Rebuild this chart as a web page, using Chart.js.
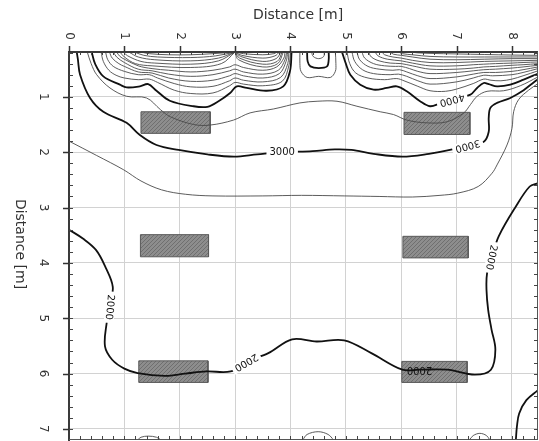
<!DOCTYPE html>
<html><head><meta charset="utf-8">
<script src="https://cdn.jsdelivr.net/npm/chart.js@4.4.1/dist/chart.umd.min.js"></script>
<style>html,body{margin:0;padding:0;background:#fff;}canvas{display:block;}</style>
</head><body>
<canvas id="c" width="539" height="441"></canvas>
<script>
// ---- axes ----
const xTickValues = [0,1,2,3,4,5,6,7,8];
const xTickLabels = ['0','1','2','3','4','5','6','7','8'];
const yTickValues = [1,2,3,4,5,6,7];
const yTickLabels = ['1','2','3','4','5','6','7'];
const axisTitle = 'Distance [m]';
const xRange = [0, 8.47];
const yRange = [0.19, 7.2];

// ---- main contour levels (thick) ----
const c2000a = [[0,3.40],[0.25,3.56],[0.49,3.77],[0.66,4.08],[0.79,4.43],[0.74,4.79],[0.68,5.09],[0.65,5.51],[0.78,5.75],[1.0,5.91],[1.24,5.99],[1.73,6.04],[2.1,6.0],[2.48,5.96],[2.92,5.96],[3.22,5.78],[3.6,5.63],[4.03,5.38],[4.47,5.42],[4.97,5.40],[5.46,5.63],[6.02,5.93],[6.33,5.93],[6.83,5.93],[7.33,6.02],[7.62,5.93],[7.70,5.57],[7.63,5.2],[7.57,4.85],[7.54,4.49],[7.55,4.19],[7.64,3.89],[7.76,3.52],[8.07,2.98],[8.32,2.62],[8.47,2.56]];
const c2000b = [[8.07,7.2],[8.09,6.95],[8.13,6.72],[8.26,6.48],[8.47,6.30]];
const c3000 = [[0.14,0.19],[0.16,0.32],[0.20,0.60],[0.38,1.02],[0.62,1.27],[1.04,1.47],[1.28,1.69],[1.58,1.87],[1.98,1.96],[2.5,2.04],[2.98,2.08],[3.4,2.04],[3.85,2.0],[4.4,1.98],[4.8,1.95],[5.1,1.96],[5.5,2.03],[6.02,2.08],[6.5,2.03],[6.88,1.96],[7.22,1.87],[7.49,1.81],[7.58,1.63],[7.58,1.38],[7.61,1.20],[7.73,1.11],[7.97,1.02],[8.21,0.88],[8.39,0.74],[8.47,0.68]];
const c4000a = [[0.41,0.19],[0.47,0.40],[0.62,0.63],[0.92,0.78],[1.04,0.83],[1.28,0.81],[1.43,0.77],[1.58,0.89],[1.82,1.07],[2.25,1.17],[2.5,1.18],[2.7,1.08],[2.91,0.93],[3.03,0.81],[3.21,0.84],[3.57,0.89],[3.87,0.81],[3.99,0.54],[4.02,0.19]];
const c4000b = [[4.93,0.19],[5.0,0.40],[5.08,0.60],[5.26,0.78],[5.50,0.87],[5.74,0.84],[5.92,0.81],[6.10,0.90],[6.34,1.08],[6.52,1.17],[6.7,1.12],[6.92,1.05],[7.25,0.96],[7.37,0.84],[7.49,0.75],[7.58,0.77],[7.73,0.81],[7.97,0.78],[8.21,0.69],[8.47,0.58]];
const cMidThick = [[4.30,0.19],[4.31,0.36],[4.36,0.45],[4.51,0.48],[4.66,0.45],[4.69,0.33],[4.69,0.19]];

// ---- intermediate contour levels (thin) ----
const c2500 = [[0,1.80],[0.5,2.06],[0.99,2.32],[1.3,2.52],[1.67,2.68],[2.1,2.76],[2.6,2.79],[3.5,2.79],[4.2,2.78],[4.97,2.79],[5.6,2.80],[6.2,2.81],[6.7,2.78],[7.02,2.74],[7.39,2.62],[7.64,2.38],[7.73,2.23],[7.91,1.87],[8.0,1.57],[8.03,1.27],[8.12,1.05],[8.3,0.88],[8.47,0.76]];
const c3500 = [[0.33,0.19],[0.40,0.40],[0.50,0.60],[0.74,0.84],[1.04,0.99],[1.40,1.02],[1.65,1.23],[1.83,1.36],[2.25,1.50],[2.55,1.51],[2.97,1.42],[3.27,1.29],[3.69,1.22],[4.17,1.11],[4.48,1.08],[4.84,1.08],[5.2,1.17],[5.62,1.27],[5.86,1.32],[6.10,1.42],[6.46,1.47],[6.83,1.45],[7.13,1.29],[7.25,1.14],[7.37,0.99],[7.55,0.90],[7.85,0.89],[8.15,0.80],[8.47,0.64]];
const cA1 = [[1.30,0.19],[1.45,0.22],[1.8,0.24],[2.2,0.24],[2.6,0.22],[3.0,0.19]];
const cA2 = [[1.18,0.19],[1.35,0.25],[1.6,0.28],[2.2,0.29],[2.65,0.26],[3.0,0.19]];
const cA3 = [[1.08,0.19],[1.25,0.28],[1.55,0.33],[2.2,0.35],[2.7,0.30],[3.0,0.19]];
const cA4 = [[0.98,0.19],[1.06,0.26],[1.3,0.36],[1.55,0.39],[2.2,0.41],[2.7,0.35],[3.0,0.19]];
const cA5 = [[0.92,0.19],[1.0,0.28],[1.2,0.40],[1.5,0.44],[2.2,0.47],[2.75,0.40],[3.0,0.19]];
const cB1 = [[0.86,0.19],[0.92,0.27],[1.0,0.32],[1.25,0.44],[1.5,0.49],[1.8,0.52],[2.2,0.55],[2.6,0.52],[2.9,0.46],[3.0,0.42],[3.15,0.47],[3.5,0.52],[3.75,0.46],[3.88,0.30],[3.9,0.19]];
const cB2 = [[0.80,0.19],[0.86,0.28],[1.0,0.38],[1.25,0.50],[1.5,0.53],[1.8,0.59],[2.2,0.63],[2.6,0.60],[2.9,0.53],[3.0,0.50],[3.15,0.55],[3.5,0.59],[3.78,0.52],[3.9,0.33],[3.93,0.19]];
const cB3 = [[0.73,0.19],[0.78,0.30],[0.9,0.40],[1.0,0.45],[1.25,0.55],[1.5,0.57],[1.8,0.66],[2.2,0.72],[2.6,0.70],[2.9,0.62],[3.0,0.58],[3.15,0.62],[3.5,0.66],[3.8,0.58],[3.92,0.36],[3.95,0.19]];
const cB4 = [[0.66,0.19],[0.70,0.33],[0.8,0.45],[1.0,0.54],[1.25,0.60],[1.45,0.60],[1.6,0.66],[1.9,0.76],[2.2,0.82],[2.6,0.81],[2.9,0.71],[3.0,0.66],[3.15,0.70],[3.5,0.73],[3.82,0.65],[3.95,0.40],[3.97,0.19]];
const cB5 = [[0.58,0.19],[0.62,0.36],[0.72,0.52],[0.85,0.61],[1.0,0.66],[1.25,0.69],[1.45,0.68],[1.6,0.74],[1.9,0.88],[2.2,0.94],[2.6,0.93],[2.9,0.80],[3.0,0.74],[3.15,0.77],[3.5,0.80],[3.85,0.72],[3.97,0.44],[4.0,0.19]];
const cC1 = [[3.0,0.19],[3.15,0.22],[3.5,0.24],[3.7,0.22],[3.76,0.19]];
const cC2 = [[3.0,0.19],[3.12,0.25],[3.5,0.30],[3.72,0.26],[3.80,0.19]];
const cC3 = [[3.0,0.19],[3.1,0.27],[3.5,0.36],[3.74,0.31],[3.83,0.19]];
const cC4 = [[3.0,0.19],[3.08,0.30],[3.5,0.41],[3.76,0.36],[3.85,0.19]];
const cC5 = [[3.0,0.19],[3.06,0.33],[3.5,0.46],[3.77,0.40],[3.87,0.19]];
const cR0 = [[6.15,0.19],[6.3,0.205],[6.52,0.215],[7.0,0.225],[7.5,0.235],[8.0,0.245],[8.47,0.25]];
const cR1 = [[5.95,0.19],[6.02,0.22],[6.2,0.24],[6.52,0.27],[7.0,0.28],[7.5,0.28],[8.0,0.28],[8.47,0.28]];
const cR2 = [[5.80,0.19],[5.86,0.23],[6.0,0.25],[6.2,0.28],[6.52,0.32],[7.0,0.33],[7.5,0.32],[8.0,0.31],[8.47,0.31]];
const cR3 = [[5.65,0.19],[5.7,0.24],[5.85,0.28],[6.0,0.30],[6.2,0.34],[6.52,0.38],[7.0,0.38],[7.5,0.36],[8.0,0.35],[8.47,0.34]];
const cR4 = [[5.53,0.19],[5.58,0.26],[5.75,0.32],[6.0,0.35],[6.2,0.39],[6.52,0.44],[7.0,0.44],[7.3,0.42],[7.49,0.41],[7.7,0.40],[8.0,0.39],[8.2,0.38],[8.47,0.37]];
const cR5 = [[5.41,0.19],[5.46,0.28],[5.6,0.35],[5.8,0.39],[6.0,0.40],[6.2,0.44],[6.52,0.50],[7.0,0.50],[7.3,0.48],[7.49,0.46],[7.7,0.45],[8.0,0.43],[8.2,0.42],[8.47,0.40]];
const cR6 = [[5.29,0.19],[5.34,0.30],[5.5,0.40],[5.7,0.44],[5.9,0.45],[6.0,0.45],[6.15,0.49],[6.3,0.54],[6.52,0.58],[7.0,0.56],[7.3,0.53],[7.49,0.51],[7.7,0.50],[8.0,0.48],[8.2,0.46],[8.47,0.43]];
const cR7 = [[5.20,0.19],[5.25,0.33],[5.4,0.45],[5.6,0.50],[5.85,0.52],[5.97,0.51],[6.1,0.55],[6.3,0.62],[6.52,0.67],[7.0,0.64],[7.3,0.59],[7.49,0.56],[7.7,0.56],[8.0,0.54],[8.2,0.51],[8.47,0.46]];
const cR8 = [[5.11,0.19],[5.16,0.36],[5.3,0.51],[5.5,0.58],[5.8,0.60],[5.95,0.59],[6.1,0.63],[6.3,0.71],[6.52,0.77],[7.0,0.73],[7.3,0.66],[7.49,0.61],[7.65,0.62],[8.0,0.60],[8.2,0.56],[8.47,0.49]];
const cR9 = [[5.02,0.19],[5.07,0.40],[5.18,0.57],[5.4,0.66],[5.7,0.69],[5.92,0.67],[6.05,0.71],[6.3,0.81],[6.52,0.89],[6.8,0.90],[7.0,0.86],[7.3,0.76],[7.49,0.68],[7.62,0.70],[7.8,0.71],[8.0,0.68],[8.2,0.62],[8.47,0.53]];
const cMidOuter = [[4.17,0.19],[4.17,0.40],[4.19,0.54],[4.30,0.65],[4.51,0.63],[4.72,0.65],[4.81,0.54],[4.82,0.40],[4.81,0.19]];
const cMidInner = [[4.38,0.19],[4.41,0.27],[4.51,0.31],[4.60,0.27],[4.61,0.19]];
const cArc1 = [[1.24,7.2],[1.30,7.15],[1.43,7.13],[1.58,7.15],[1.66,7.2]];
const cArc2 = [[4.22,7.2],[4.3,7.1],[4.5,7.05],[4.68,7.1],[4.78,7.2]];
const cArc3 = [[7.23,7.2],[7.3,7.12],[7.42,7.08],[7.54,7.12],[7.6,7.2]];

// ---- contour labels ----
const labelTexts = ['3000','3000','4000','2000','2000','2000','2000'];
const labelX = [3.85, 7.20, 6.92, 0.74, 3.20, 6.33, 7.63];
const labelY = [2.00, 1.89, 1.06, 4.80, 5.80, 5.93, 3.90];
const labelAngle = [0, 165, 165, 95, 150, 180, 102];

// ---- buildings ----
const bX0 = [1.30, 6.05, 1.29, 6.03, 1.26, 6.01];
const bX1 = [2.55, 7.24, 2.52, 7.21, 2.51, 7.19];
const bY0 = [1.27, 1.28, 3.49, 3.52, 5.77, 5.78];
const bY1 = [1.66, 1.68, 3.89, 3.91, 6.16, 6.16];

const thickSet = [c2000a, c2000b, c3000, c4000a, c4000b, cMidThick];
const thinSet = [c2500, c3500, cA1, cA2, cA3, cA4, cA5, cB1, cB2, cB3, cB4, cB5, cC1, cC2, cC3, cC4, cC5,
  cR0, cR1, cR2, cR3, cR4, cR5, cR6, cR7, cR8, cR9, cMidOuter, cMidInner, cArc1, cArc2, cArc3];

function toXY(arr){ return arr.map(p => ({x:p[0], y:p[1]})); }

function hatch(){
  const p = document.createElement('canvas'); p.width = 4; p.height = 4;
  const g = p.getContext('2d');
  g.fillStyle = '#8d8d8d'; g.fillRect(0,0,4,4);
  g.fillStyle = '#6f6f6f';
  g.fillRect(0,0,1,1); g.fillRect(2,2,1,1); g.fillRect(1,3,1,1); g.fillRect(3,1,1,1);
  return g.createPattern(p, 'repeat');
}
const pat = hatch();

const datasets = [];
for (let i = 0; i < bX0.length; i++) {
  datasets.push({
    data: toXY([[bX0[i],bY0[i]],[bX1[i],bY0[i]],[bX1[i],bY1[i]],[bX0[i],bY1[i]],[bX0[i],bY0[i]]]),
    borderColor: '#5a5a5a', borderWidth: 1, backgroundColor: pat, fill: 'shape',
    tension: 0, pointRadius: 0, order: 10
  });
}
thinSet.forEach(a => datasets.push({
  data: toXY(a), borderColor: '#4a4a4a', borderWidth: 0.9, fill: false,
  tension: 0.35, pointRadius: 0, order: 2
}));
thickSet.forEach(a => datasets.push({
  data: toXY(a), borderColor: '#111', borderWidth: 1.8, fill: false,
  tension: 0.35, pointRadius: 0, order: 1
}));

const deco = {
  id: 'deco',
  afterDatasetsDraw(chart) {
    const ctx = chart.ctx, xs = chart.scales.x, ys = chart.scales.y, a = chart.chartArea;
    ctx.save();
    // contour labels
    ctx.font = '10px "DejaVu Sans"';
    ctx.textAlign = 'center'; ctx.textBaseline = 'middle';
    for (let i = 0; i < labelTexts.length; i++) {
      const px = xs.getPixelForValue(labelX[i]), py = ys.getPixelForValue(labelY[i]);
      ctx.save();
      ctx.translate(px, py); ctx.rotate(labelAngle[i] * Math.PI / 180);
      const w = ctx.measureText(labelTexts[i]).width;
      ctx.fillStyle = '#fff';
      if (i !== 5) ctx.fillRect(-w/2 - 3, -5, w + 6, 10);
      ctx.fillStyle = '#111';
      ctx.fillText(labelTexts[i], 0, 0.5);
      ctx.restore();
    }
    // borders
    ctx.strokeStyle = '#3a3a3a';
    ctx.lineWidth = 2;
    ctx.beginPath(); ctx.moveTo(a.left - 1, a.top); ctx.lineTo(a.right, a.top); ctx.stroke();
    ctx.beginPath(); ctx.moveTo(a.left, a.top); ctx.lineTo(a.left, a.bottom + 1); ctx.stroke();
    ctx.lineWidth = 1; ctx.strokeStyle = '#555';
    ctx.beginPath(); ctx.moveTo(a.right - 0.5, a.top); ctx.lineTo(a.right - 0.5, a.bottom); ctx.stroke();
    ctx.beginPath(); ctx.moveTo(a.left, a.bottom - 0.5); ctx.lineTo(a.right, a.bottom - 0.5); ctx.stroke();
    // minor ticks every 0.2
    ctx.strokeStyle = '#444'; ctx.lineWidth = 1;
    for (let k = 1; k * 0.2 < xRange[1]; k++) {
      const px = Math.round(xs.getPixelForValue(k * 0.2)) + 0.5;
      ctx.beginPath(); ctx.moveTo(px, a.top); ctx.lineTo(px, a.top + 3); ctx.stroke();
      ctx.beginPath(); ctx.moveTo(px, a.bottom); ctx.lineTo(px, a.bottom - 4); ctx.stroke();
    }
    for (let k = 1; k * 0.2 < yRange[1]; k++) {
      const v = k * 0.2; if (v < yRange[0]) continue;
      const py = Math.round(ys.getPixelForValue(v)) + 0.5;
      ctx.beginPath(); ctx.moveTo(a.left, py); ctx.lineTo(a.left + 4, py); ctx.stroke();
      ctx.beginPath(); ctx.moveTo(a.right, py); ctx.lineTo(a.right - 4, py); ctx.stroke();
    }
    // major ticks
    ctx.strokeStyle = '#333'; ctx.lineWidth = 1.5;
    xTickValues.forEach(v => {
      const px = Math.round(xs.getPixelForValue(v)) + 0.5;
      ctx.beginPath(); ctx.moveTo(px, a.top); ctx.lineTo(px, a.top - 6); ctx.stroke();
    });
    yTickValues.forEach(v => {
      const py = Math.round(ys.getPixelForValue(v)) + 0.5;
      ctx.beginPath(); ctx.moveTo(a.left, py); ctx.lineTo(a.left - 6, py); ctx.stroke();
    });
    // tick labels rotated 90deg clockwise
    ctx.fillStyle = '#333';
    ctx.font = '12px "DejaVu Sans"';
    ctx.textAlign = 'center'; ctx.textBaseline = 'middle';
    xTickValues.forEach((v, i) => {
      ctx.save(); ctx.translate(xs.getPixelForValue(v), 36); ctx.rotate(Math.PI / 2);
      ctx.fillText(xTickLabels[i], 0, 0); ctx.restore();
    });
    yTickValues.forEach((v, i) => {
      ctx.save(); ctx.translate(43, ys.getPixelForValue(v)); ctx.rotate(Math.PI / 2);
      ctx.fillText(yTickLabels[i], 0, 0); ctx.restore();
    });
    // titles
    ctx.font = '14px "DejaVu Sans"';
    ctx.fillText(axisTitle, 298, 15);
    ctx.save(); ctx.translate(20, 244); ctx.rotate(Math.PI / 2);
    ctx.fillText(axisTitle, 0, 0); ctx.restore();
    ctx.restore();
  }
};

new Chart(document.getElementById('c'), {
  type: 'line',
  data: { datasets },
  options: {
    responsive: false, animation: false, devicePixelRatio: 1,
    layout: { padding: { left: 69, top: 52, right: 1, bottom: 1 } },
    plugins: { legend: { display: false }, tooltip: { enabled: false }, title: { display: false } },
    scales: {
      x: {
        type: 'linear', position: 'top', min: xRange[0], max: xRange[1],
        ticks: { display: false }, border: { display: false },
        grid: { color: '#d2d2d2', lineWidth: 1, drawTicks: false },
        afterBuildTicks: s => { s.ticks = xTickValues.map(v => ({ value: v })); },
        afterFit: s => { s.height = 0; }
      },
      y: {
        type: 'linear', reverse: true, min: yRange[0], max: yRange[1],
        ticks: { display: false }, border: { display: false },
        grid: { color: '#d2d2d2', lineWidth: 1, drawTicks: false },
        afterBuildTicks: s => { s.ticks = yTickValues.map(v => ({ value: v })); },
        afterFit: s => { s.width = 0; }
      }
    }
  },
  plugins: [deco]
});
</script>
</body></html>
